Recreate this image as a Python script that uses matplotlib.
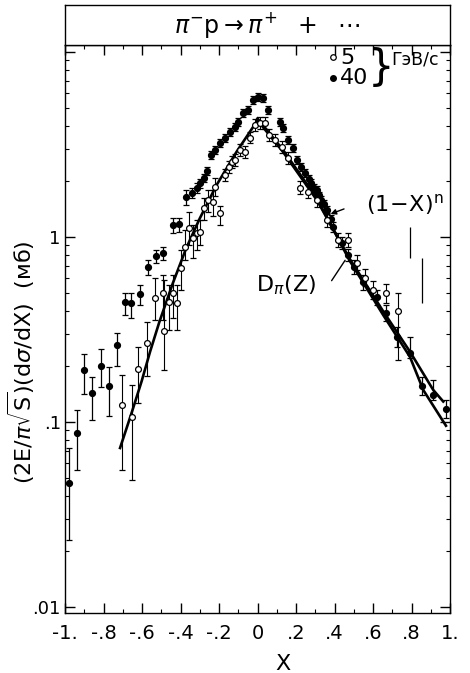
import numpy as np
import matplotlib
matplotlib.use("Agg")
import matplotlib.pyplot as plt
from matplotlib.ticker import FixedLocator, NullFormatter, LogLocator

plt.rcParams['font.family'] = ['DejaVu Sans']
plt.rcParams['mathtext.fontset'] = 'dejavusans'

# ---------------- data ----------------
# 40 GeV/c  (filled points)
f_x = [-0.98, -0.94, -0.90, -0.86, -0.815, -0.773, -0.73, -0.69, -0.655, -0.61,
       -0.57, -0.527, -0.49, -0.44, -0.41, -0.37, -0.34, -0.316, -0.30, -0.28,
       -0.26, -0.24, -0.22, -0.195, -0.17, -0.143, -0.117, -0.10, -0.074, -0.048,
       -0.022, 0.004, 0.03, 0.056, 0.117, 0.134, 0.16, 0.185, 0.204, 0.225,
       0.247, 0.265, 0.28, 0.295, 0.307, 0.32, 0.33, 0.345, 0.36, 0.38,
       0.394, 0.437, 0.47, 0.50, 0.55, 0.62, 0.67, 0.723, 0.792, 0.853,
       0.913, 0.98]
f_y = [0.047, 0.087, 0.19, 0.143, 0.20, 0.157, 0.26, 0.445, 0.44, 0.49,
       0.69, 0.79, 0.82, 1.16, 1.17, 1.64, 1.73, 1.84, 1.96, 2.08,
       2.27, 2.78, 2.95, 3.22, 3.43, 3.70, 3.93, 4.19, 4.68, 4.86,
       5.50, 5.71, 5.64, 4.86, 4.20, 3.87, 3.35, 3.03, 2.61, 2.40,
       2.22, 2.05, 1.96, 1.85, 1.80, 1.68, 1.585, 1.50, 1.40, 1.25,
       1.13, 0.93, 0.80, 0.69, 0.57, 0.474, 0.388, 0.288, 0.236, 0.157,
       0.140, 0.1175]
f_lo = [0.023, 0.055, 0.142, 0.1025, 0.155, 0.108, 0.20, 0.379, 0.365, 0.429,
        0.623, 0.723, 0.75, 1.05, 1.06, 1.49, 1.62, 1.73, 1.85, 1.97,
        2.15, 2.64, 2.80, 3.06, 3.26, 3.52, 3.74, 3.98, 4.45, 4.62,
        5.23, 5.43, 5.36, 4.62, 3.99, 3.68, 3.18, 2.88, 2.48, 2.28,
        2.11, 1.95, 1.86, 1.76, 1.71, 1.60, 1.50, 1.42, 1.33, 1.18,
        1.06, 0.86, 0.74, 0.63, 0.52, 0.43, 0.35, 0.255, 0.222, 0.140,
        0.131, 0.105]
f_hi = [0.072, 0.116, 0.233, 0.175, 0.248, 0.198, 0.303, 0.498, 0.498, 0.551,
        0.751, 0.851, 0.883, 1.27, 1.27, 1.80, 1.84, 1.95, 2.07, 2.19,
        2.39, 2.92, 3.10, 3.38, 3.60, 3.88, 4.12, 4.40, 4.91, 5.10,
        5.77, 5.99, 5.92, 5.10, 4.41, 4.06, 3.52, 3.18, 2.74, 2.52,
        2.33, 2.15, 2.06, 1.94, 1.89, 1.76, 1.67, 1.58, 1.47, 1.32,
        1.20, 1.00, 0.86, 0.75, 0.62, 0.52, 0.43, 0.325, 0.288, 0.176,
        0.168, 0.132]

# 5 GeV/c  (open points)
o_x = [-0.704, -0.652, -0.62, -0.576, -0.53, -0.49, -0.486, -0.46, -0.437, -0.42,
       -0.40, -0.377, -0.354, -0.337, -0.316, -0.30, -0.278, -0.255, -0.23, -0.22,
       -0.195, -0.17, -0.15, -0.134, -0.117, -0.09, -0.065, -0.04, -0.013, 0.013,
       0.039, 0.061, 0.09, 0.126, 0.16, 0.22, 0.264, 0.307, 0.36, 0.42,
       0.47, 0.515, 0.558, 0.60, 0.67, 0.73]
o_y = [0.1236, 0.1064, 0.1934, 0.267, 0.468, 0.498, 0.310, 0.4455, 0.498, 0.44,
       0.680, 0.883, 1.118, 0.988, 1.051, 1.064, 1.435, 1.585, 1.546, 1.864,
       1.348, 2.163, 2.39, 2.54, 2.61, 2.95, 2.88, 3.43, 4.03, 4.13,
       4.13, 3.56, 3.345, 3.07, 2.67, 1.84, 1.75, 1.585, 1.235, 0.963,
       0.963, 0.723, 0.60, 0.517, 0.498, 0.398]
o_lo = [0.055, 0.0486, 0.1267, 0.1773, 0.356, 0.356, 0.191, 0.314, 0.365, 0.314,
        0.517, 0.751, 0.905, 0.770, 0.851, 0.905, 1.235, 1.365, 1.299, 1.666,
        1.161, 2.00, 2.21, 2.36, 2.43, 2.75, 2.68, 3.20, 3.76, 3.85,
        3.85, 3.32, 3.12, 2.86, 2.49, 1.70, 1.62, 1.46, 1.13, 0.88,
        0.88, 0.66, 0.54, 0.46, 0.44, 0.2165]
o_hi = [0.1795, 0.1585, 0.254, 0.347, 0.600, 0.623, 0.586, 0.551, 0.623, 0.551,
        0.851, 1.091, 1.365, 1.161, 1.235, 1.235, 1.625, 1.795, 1.795, 2.084,
        1.47, 2.34, 2.58, 2.74, 2.81, 3.17, 3.10, 3.68, 4.32, 4.43,
        4.43, 3.82, 3.59, 3.30, 2.87, 2.00, 1.90, 1.72, 1.35, 1.05,
        1.05, 0.80, 0.67, 0.58, 0.56, 0.498]

# isolated error bars without visible points
s_x = [0.79, 0.853]
s_lo = [0.770, 0.44]
s_hi = [1.132, 0.770]

# fitted curves
left_x = [-0.714, -0.654, -0.602, -0.558, -0.51, -0.44, -0.37, -0.30, -0.213, -0.109, 0.0]
left_y = [0.0724, 0.112, 0.166, 0.240, 0.347, 0.562, 0.871, 1.259, 1.905, 2.884, 4.266]
dpi_x = [0.0, 0.133, 0.308, 0.48, 0.652, 0.792, 0.913, 0.965]
dpi_y = [4.27, 2.88, 1.585, 0.759, 0.398, 0.240, 0.149, 0.129]
pow_x = [0.0, 0.133, 0.308, 0.48, 0.652, 0.792, 0.861, 0.979]
pow_y = [4.37, 2.95, 1.62, 0.741, 0.380, 0.225, 0.149, 0.0955]

x_ticks = [-1, -0.8, -0.6, -0.4, -0.2, 0, 0.2, 0.4, 0.6, 0.8, 1]
x_tick_labels = ['-1.', '-.8', '-.6', '-.4', '-.2', '0', '.2', '.4', '.6', '.8', '1.']
y_ticks = [0.01, 0.1, 1]
y_tick_labels = ['.01', '.1', '1']

# ---------------- figure ----------------
W, H = 470, 673
fig = plt.figure(figsize=(W / 100, H / 100), dpi=100)
ax = fig.add_axes([65 / W, 1 - 613 / H, 385 / W, 568 / H])

ax.set_xlim(-1, 1)
ax.set_yscale('log')
ax.set_ylim(0.00929, 10.9)

# curves
ax.plot(left_x, left_y, color='black', lw=1.9, zorder=2)
ax.plot(dpi_x, dpi_y, color='black', lw=1.9, zorder=2)
ax.plot(pow_x, pow_y, color='black', lw=1.9, zorder=2)

fx, fy = np.array(f_x), np.array(f_y)
ax.errorbar(fx, fy, yerr=[fy - np.array(f_lo), np.array(f_hi) - fy], fmt='o',
            ms=4.2, color='black', ecolor='black', elinewidth=0.9, capsize=2,
            capthick=0.9, zorder=3)
ox, oy = np.array(o_x), np.array(o_y)
ax.errorbar(ox, oy, yerr=[oy - np.array(o_lo), np.array(o_hi) - oy], fmt='o',
            ms=4.2, mfc='white', mec='black', mew=0.9, color='black',
            ecolor='black', elinewidth=0.8, capsize=2, capthick=0.8, zorder=4)
ax.vlines(s_x, s_lo, s_hi, color='black', lw=0.9)

# ticks
ax.set_xticks(x_ticks)
ax.set_xticklabels(x_tick_labels, fontsize=14)
ax.xaxis.set_minor_locator(FixedLocator([-0.9, -0.7, -0.5, -0.3, -0.1, 0.1, 0.3, 0.5, 0.7, 0.9]))
ax.yaxis.set_major_locator(FixedLocator([0.01, 0.1, 1, 10]))
ax.set_yticklabels(y_tick_labels + [''], fontsize=13)
ax.yaxis.set_minor_locator(LogLocator(base=10, subs=np.arange(2, 10)))
ax.yaxis.set_minor_formatter(NullFormatter())
ax.tick_params(which='both', direction='in', top=True, right=True)
ax.tick_params(which='major', length=7, width=1)
ax.tick_params(which='minor', length=3, width=0.8)
ax.tick_params(axis='x', pad=8)
ax.tick_params(axis='y', pad=3)
for sp in ax.spines.values():
    sp.set_linewidth(1.0)

ax.set_xlabel('X', fontsize=16, labelpad=0)
ax.xaxis.set_label_coords((283 - 65) / 385, -0.072)
fig.text(21 / W, 1 - 362 / H,
         r'$(2\mathrm{E}/\pi\sqrt{\mathrm{S}})(\mathrm{d}\sigma/\mathrm{dX})$  (мб)',
         rotation=90, ha='center', va='center', fontsize=16)

# legend (hand-made)
ax.plot([0.696], [0.979], 'o', ms=4, mfc='white', mec='black', mew=0.9,
        transform=ax.transAxes, clip_on=False)
ax.text(0.714, 0.977, '5', transform=ax.transAxes, fontsize=16, va='center', ha='left')
ax.plot([0.696], [0.942], 'o', ms=4, color='black', transform=ax.transAxes, clip_on=False)
ax.text(0.714, 0.942, '40', transform=ax.transAxes, fontsize=16, va='center', ha='left')
ax.text(0.822, 0.960, '}', transform=ax.transAxes, fontsize=30, va='center', ha='center')
ax.text(0.848, 0.975, 'ГэВ/с', transform=ax.transAxes, fontsize=12.5, va='center', ha='left')

# curve labels with arrows
ax.annotate('', xy=(0.366, 1.315), xytext=(0.463, 1.435),
            arrowprops=dict(arrowstyle='-|>', lw=1, color='black', mutation_scale=8))
ax.text(0.565, 1.49, r'$(1\!-\!\mathrm{X})^\mathrm{n}$', fontsize=16, va='center', ha='left')
ax.annotate('', xy=(0.463, 0.77), xytext=(0.377, 0.564),
            arrowprops=dict(arrowstyle='-', lw=1, color='black'))
ax.text(-0.01, 0.55, r'$\mathrm{D}_\pi(\mathrm{Z})$', fontsize=16, va='center', ha='left')

# header box with the reaction
hx = fig.add_axes([65 / W, 1 - 45 / H, 385 / W, 40 / H])
hx.set_xticks([])
hx.set_yticks([])
for sp in hx.spines.values():
    sp.set_linewidth(1.0)
hx.text((267 - 65) / 385, 0.5, r'$\pi^{-}\mathrm{p} \rightarrow \pi^{+}\ \ +\ \ \cdots$',
        ha='center', va='center', fontsize=17, transform=hx.transAxes)

fig.savefig('out.png', dpi=100)
